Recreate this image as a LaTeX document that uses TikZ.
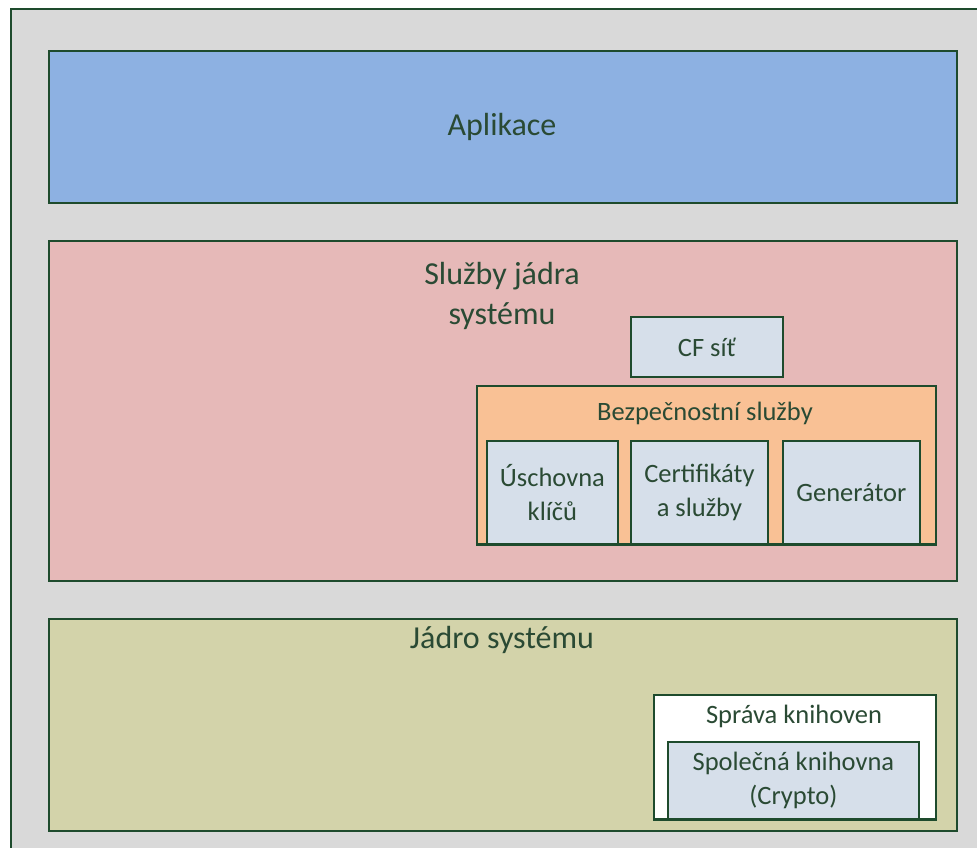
\documentclass[tikz,border=0pt]{standalone}
\usepackage{fontspec}
\setmainfont{Carlito}
\usepackage{tikz}
\usetikzlibrary{positioning}

\definecolor{edge}{RGB}{30,75,45}
\definecolor{txt}{RGB}{42,74,52}
\definecolor{bg}{RGB}{217,217,217}
\definecolor{apl}{RGB}{141,177,226}
\definecolor{sluz}{RGB}{230,185,184}
\definecolor{jadro}{RGB}{211,211,170}
\definecolor{bezp}{RGB}{249,193,149}
\definecolor{modul}{RGB}{214,223,234}

\begin{document}
\begin{tikzpicture}[x=1pt,y=-1pt,
    box/.style={draw=edge, line width=1.8pt, inner sep=0pt, anchor=north west},
    bigtext/.style={text=txt, font=\fontsize{32}{40}\selectfont, align=center},
    smalltext/.style={text=txt, font=\fontsize{26.5}{34}\selectfont, align=center}]
    \useasboundingbox (0,0) rectangle (977,847);
    \clip (0,0) rectangle (977,847);
    \fill[white] (0,0) rectangle (977,847);

    % grey frame, runs off the right and bottom edge
    \node[box, fill=bg, minimum width=1000pt, minimum height=900pt] (frame) at (10,8) {};

    % three layers
    \node[box, fill=apl, minimum width=908pt, minimum height=152pt] (aplikace) at (48,50) {};
    \node[box, fill=sluz, minimum width=908pt, minimum height=340pt] (sluzby) at (48,240) {};
    \node[box, fill=jadro, minimum width=908pt, minimum height=212pt] (jadro) at (48,618) {};

    \node[bigtext] (aplikacet) at (502,127) {Aplikace};
    \node[bigtext] (sluzbyt) at (502,296) {Služby jádra\\systému};
    \node[bigtext] (jadrot) at (502,640) {Jádro systému};

    % modules of the core services
    \node[box, fill=modul, minimum width=152pt, minimum height=60pt] (cf) at (630,316) {};
    \node[smalltext] at (cf.center) {CF síť};

    \node[box, fill=bezp, minimum width=459pt, minimum height=158pt] (bezp) at (476,385) {};
    \node[smalltext] (bezpt) at (705,413) {Bezpečnostní služby};

    \node[box, fill=modul, minimum width=131pt, minimum height=103pt] (uschovna) at (486,440) {};
    \node[box, fill=modul, minimum width=137pt, minimum height=103pt] (certif) at (630,440) {};
    \node[box, fill=modul, minimum width=137pt, minimum height=103pt] (generator) at (782,440) {};
    \node[smalltext] at (uschovna.center) {Úschovna\\klíčů};
    \node[smalltext] at (certif.center) {Certifikáty\\a služby};
    \node[smalltext] at (generator.center) {Generátor};
    % bottom line of the security box over the modules
    \draw[edge, line width=1.8pt] (bezp.south west) -- (bezp.south east);

    % library management in the core
    \node[box, fill=white, minimum width=282pt, minimum height=124pt] (sprava) at (653,694) {};
    \node[smalltext] (spravat) at (794,716) {Správa knihoven};
    \node[box, fill=modul, minimum width=251pt, minimum height=77pt] (knihovna) at (667,741) {};
    \node[smalltext] at (knihovna.center) {Společná knihovna\\(Crypto)};
    \draw[edge, line width=1.8pt] (sprava.south west) -- (sprava.south east);
\end{tikzpicture}
\end{document}
